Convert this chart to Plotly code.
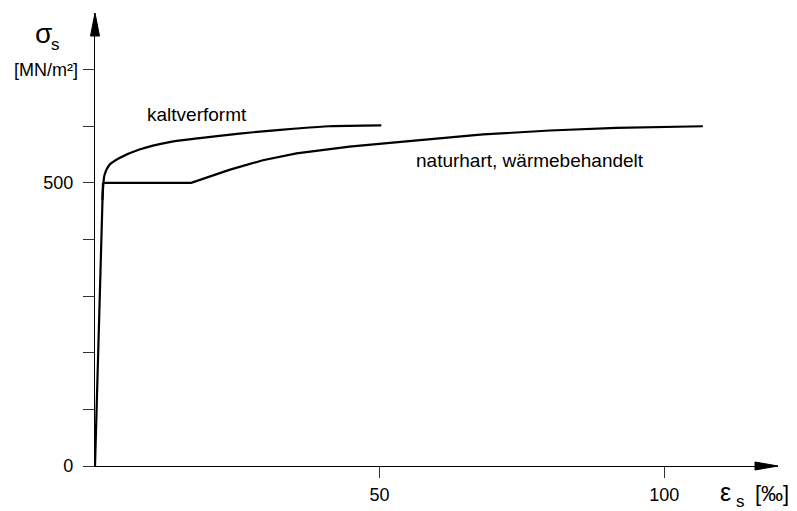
import plotly.graph_objects as go

# ---- data ----
elastic_strain = [0.0, 1.4]
elastic_stress = [0, 500]

natur_strain = [1.4, 16.9, 23.6, 29.5, 35.4, 41.2, 44.7, 51.8, 56.4, 68.2, 79.9, 91.6, 106.8]
natur_stress = [500, 500, 523, 540, 552, 560, 564, 570.5, 575, 585.5, 592.5, 597, 600]

kalt_strain = [1.3, 1.45, 1.67, 2.55, 4.3, 7.8, 13.1, 18.4, 25.4, 29.5, 35.4, 41.2, 50.3]
kalt_stress = [470, 495, 514, 532, 544, 559, 572, 579, 587, 591, 596, 600, 601.5]

y_tick_vals = [0, 100, 200, 300, 400, 500, 600, 700]
y_tick_text = ["0", "", "", "", "", "500", "", ""]
x_tick_vals = [50, 100]
x_tick_text = ["50", "100"]

label_kalt = "kaltverformt"
label_natur = "naturhart, wärmebehandelt"

# ---- layout geometry (page has an 8px body margin) ----
OFF = 8
W, H = 797 - OFF, 511 - OFF
ML, MR, MT, MB = 95 - OFF, 19, 13 - OFF, 45
XMAX, YMAX = 120, 800
FONT = "Liberation Sans, Arial, sans-serif"
PW, PH = W - ML - MR, H - MT - MB

def px2paper(px):
    return (px - OFF - ML) / PW

def py2paper(py):
    return (H - MB - (py - OFF)) / PH

line = dict(color="black", width=2.2)

fig = go.Figure()
fig.add_trace(go.Scatter(x=elastic_strain, y=elastic_stress, mode="lines", line=line,
                         hoverinfo="skip", showlegend=False))
fig.add_trace(go.Scatter(x=natur_strain, y=natur_stress, mode="lines", line=line,
                         hoverinfo="skip", showlegend=False))
fig.add_trace(go.Scatter(x=kalt_strain, y=kalt_stress, mode="lines",
                         line=dict(color="black", width=2.2, shape="spline", smoothing=0.8),
                         hoverinfo="skip", showlegend=False))

axis_common = dict(showgrid=False, zeroline=False, showline=True, linecolor="black",
                   linewidth=1.3, ticks="outside", ticklen=11, tickwidth=1.2,
                   tickcolor="#333", automargin=False,
                   tickfont=dict(family=FONT, size=18, color="black"))

fig.update_xaxes(range=[0, XMAX], tickmode="array", tickvals=x_tick_vals,
                 ticktext=x_tick_text, ticklabelstandoff=1, **axis_common)
fig.update_yaxes(range=[0, YMAX], tickmode="array", tickvals=y_tick_vals,
                 ticktext=y_tick_text, ticklabelstandoff=6, **axis_common)

# arrow heads (pixel-sized triangles anchored at axis ends)
fig.add_shape(type="path", xref="paper", yref="paper", xsizemode="pixel", ysizemode="pixel",
              xanchor=1, yanchor=0, path="M -23,-4 L 0,0 L -23,4 Z",
              fillcolor="black", line=dict(color="black", width=1))
fig.add_shape(type="path", xref="paper", yref="paper", xsizemode="pixel", ysizemode="pixel",
              xanchor=0, yanchor=1, path="M -4.5,-23 L 0,0 L 4.5,-23 Z",
              fillcolor="black", line=dict(color="black", width=1))

def ann(text, px, py, size, xanchor="center", family=FONT):
    fig.add_annotation(text=text, x=px2paper(px), y=py2paper(py), xref="paper", yref="paper",
                       showarrow=False, xanchor=xanchor, yanchor="middle",
                       font=dict(family=family, size=size, color="black"))

ann("σ", 43, 33, 28)
ann("s", 55, 44, 17)
ann("[MN/m²]", 46, 70, 18)
ann("ε", 725, 492, 25)
ann("s", 740, 501, 17)
ann("[‰]", 772, 493, 22)
ann(label_kalt, 145, 114, 19, xanchor="left")
ann(label_natur, 414, 160, 19, xanchor="left")

fig.update_layout(template="none", width=W, height=H,
                  margin=dict(l=ML, r=MR, t=MT, b=MB, pad=0, autoexpand=False),
                  paper_bgcolor="white", plot_bgcolor="white", showlegend=False)

fig.write_html("out.html")
